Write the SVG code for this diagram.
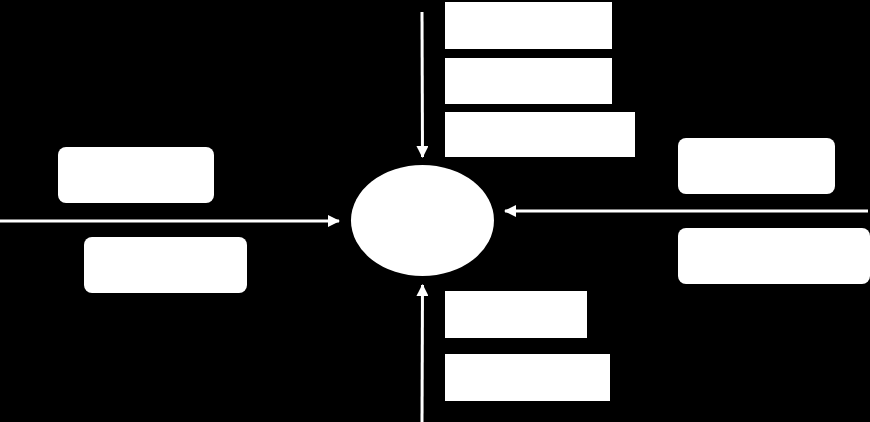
<svg xmlns="http://www.w3.org/2000/svg" width="870" height="422" viewBox="0 0 870 422">
<style>
.box{fill:#fff;stroke:none}
.rbox{fill:#fff;stroke:none}
.conn{stroke:#fff;stroke-width:3;fill:none;marker-end:url(#ah)}
</style>
<defs>
<marker id="ah" markerWidth="12" markerHeight="12" refX="11" refY="6" orient="auto" markerUnits="userSpaceOnUse">
<path d="M0,0 L12,6 L0,12 Z" fill="#fff"/>
</marker>
</defs>
<rect x="0" y="0" width="870" height="422" fill="#000"/>
<g id="connectors">
<line class="conn" x1="422" y1="12" x2="422.5" y2="157"/>
<line class="conn" x1="0" y1="221" x2="339" y2="221"/>
<line class="conn" x1="868" y1="211" x2="505" y2="211"/>
<line class="conn" x1="422" y1="422" x2="422.5" y2="285"/>
</g>
<g id="center"><ellipse cx="422.5" cy="220.5" rx="71.5" ry="55.5" fill="#fff"/></g>
<g id="top1"><rect class="box" x="445" y="2" width="167" height="47"/></g>
<g id="top2"><rect class="box" x="445" y="58" width="167" height="46"/></g>
<g id="top3"><rect class="box" x="445" y="112" width="190" height="45"/></g>
<g id="left1"><rect class="rbox" x="58" y="147" width="156" height="56" rx="8"/></g>
<g id="left2"><rect class="rbox" x="84" y="237" width="163" height="56" rx="8"/></g>
<g id="right1"><rect class="rbox" x="678" y="138" width="157" height="56" rx="8"/></g>
<g id="right2"><rect class="rbox" x="678" y="228" width="192" height="56" rx="8"/></g>
<g id="bottom1"><rect class="box" x="445" y="291" width="142" height="47"/></g>
<g id="bottom2"><rect class="box" x="445" y="354" width="165" height="47"/></g>
</svg>
